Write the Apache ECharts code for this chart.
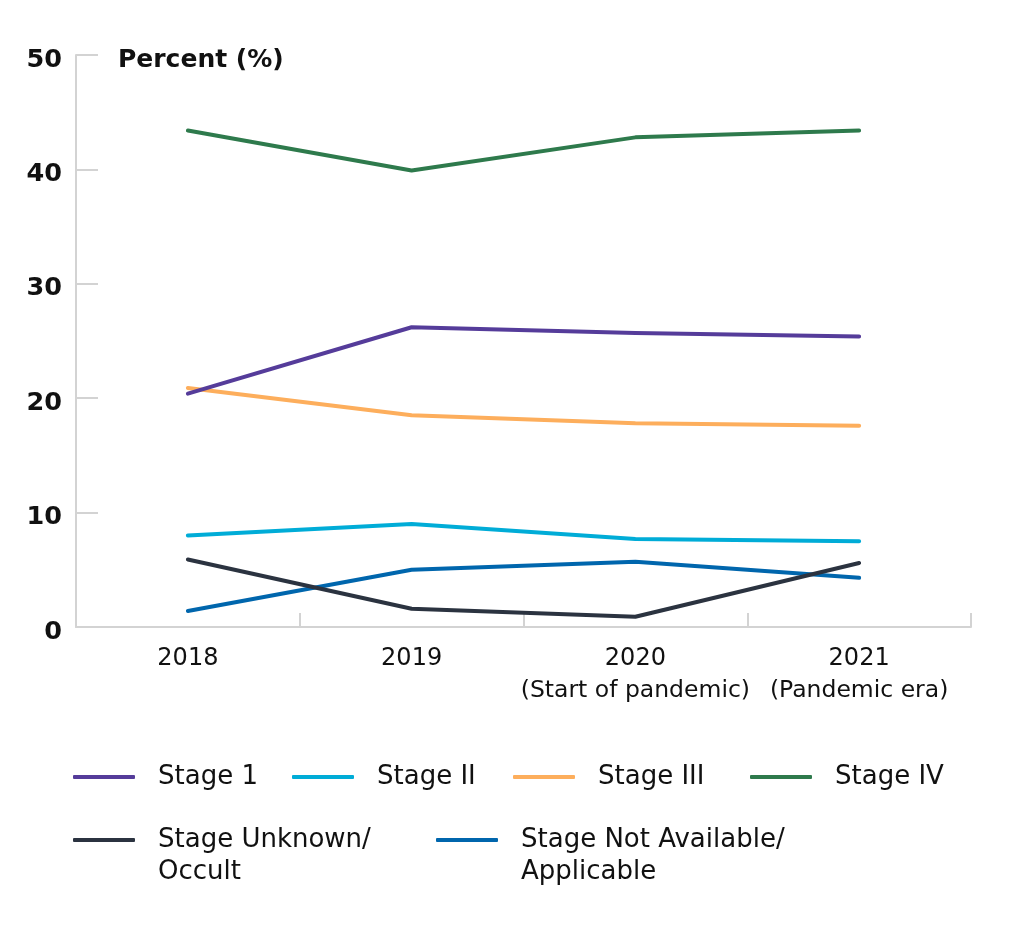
<!DOCTYPE html>
<html>
<head>
<meta charset="utf-8">
<script src="https://cdn.jsdelivr.net/npm/echarts@6/dist/echarts.min.js"></script>
<style>
html,body{margin:0;padding:0;background:#fff;}
#chart{width:1019px;height:927px;}
</style>
</head>
<body>
<div id="chart"></div>
<script>
var years = ['2018', '2019', '2020', '2021'];
var yearNotes = ['', '', '(Start of pandemic)', '(Pandemic era)'];
var yTicks = [0, 10, 20, 30, 40, 50];

var seriesNames = ['Stage 1', 'Stage II', 'Stage III', 'Stage IV', 'Stage Unknown/\nOccult', 'Stage Not Available/\nApplicable'];
var stage1 = [20.4, 26.2, 25.7, 25.4];
var stage2 = [8.0, 9.0, 7.7, 7.5];
var stage3 = [20.9, 18.5, 17.8, 17.6];
var stage4 = [43.4, 39.9, 42.8, 43.4];
var stageUnknown = [5.9, 1.6, 0.9, 5.6];
var stageNA = [1.4, 5.0, 5.7, 4.3];
var colors = ['#553c9a', '#00acd7', '#fdae5c', '#2e7a4c', '#2b3340', '#0066ad'];

var FONT = 'DejaVu Sans';
var values = [stage1, stage2, stage3, stage4, stageUnknown, stageNA];

var series = values.map(function (v, i) {
  return {
    name: seriesNames[i],
    type: 'line',
    data: v,
    showSymbol: false,
    symbol: 'none',
    lineStyle: { color: colors[i], width: 4, join: 'round', cap: 'round' },
    itemStyle: { color: colors[i] },
    z: 10 - i
  };
});

function legendFor(i, left, top, twoLine) {
  return {
    data: [seriesNames[i]],
    left: left,
    top: top,
    orient: 'horizontal',
    icon: 'roundRect',
    itemWidth: 62,
    itemHeight: 4,
    padding: 0,
    formatter: twoLine ? function (name) { return '\n\n' + name + '\n'; } : undefined,
    textStyle: {
      fontFamily: FONT,
      fontSize: 26,
      color: '#111',
      lineHeight: 32,
      padding: [0, 0, 0, 18]
    }
  };
}

var chart = echarts.init(document.getElementById('chart'), null, { renderer: 'canvas' });
chart.setOption({
  animation: false,
  backgroundColor: '#fff',
  title: {
    text: 'Percent (%)',
    left: 118,
    top: 48,
    padding: 0,
    textStyle: { fontFamily: FONT, fontSize: 25, fontWeight: 'bold', color: '#111' }
  },
  grid: { left: 76, right: 48, top: 55, bottom: 300, containLabel: false },
  xAxis: {
    type: 'category',
    data: years,
    boundaryGap: true,
    axisLine: { lineStyle: { color: '#d3d3d3', width: 2 } },
    axisTick: { show: true, inside: true, length: 14, alignWithLabel: false, lineStyle: { color: '#d3d3d3', width: 2 } },
    axisLabel: {
      margin: 16,
      fontFamily: FONT,
      color: '#111',
      formatter: function (val, idx) {
        var note = yearNotes[idx];
        return note ? '{a|' + val + '}\n{b|' + note + '}' : '{a|' + val + '}';
      },
      rich: {
        a: { fontFamily: FONT, fontSize: 24, lineHeight: 32, color: '#111' },
        b: { fontFamily: FONT, fontSize: 23.5, lineHeight: 32, color: '#111' }
      }
    }
  },
  yAxis: {
    type: 'value',
    min: yTicks[0],
    max: yTicks[yTicks.length - 1],
    interval: 10,
    splitLine: { show: false },
    axisLine: { show: true, lineStyle: { color: '#d3d3d3', width: 2 } },
    axisTick: { show: true, inside: true, length: 22, lineStyle: { color: '#d3d3d3', width: 2 } },
    axisLabel: { margin: 14, verticalAlign: 'top', lineHeight: 10, fontFamily: FONT, fontSize: 25.5, fontWeight: 'bold', color: '#111' }
  },
  legend: [
    legendFor(0, 73, 761, false),
    legendFor(1, 292, 761, false),
    legendFor(2, 513, 761, false),
    legendFor(3, 750, 761, false),
    legendFor(4, 73, 760, true),
    legendFor(5, 436, 760, true)
  ],
  series: series
});
</script>
</body>
</html>
